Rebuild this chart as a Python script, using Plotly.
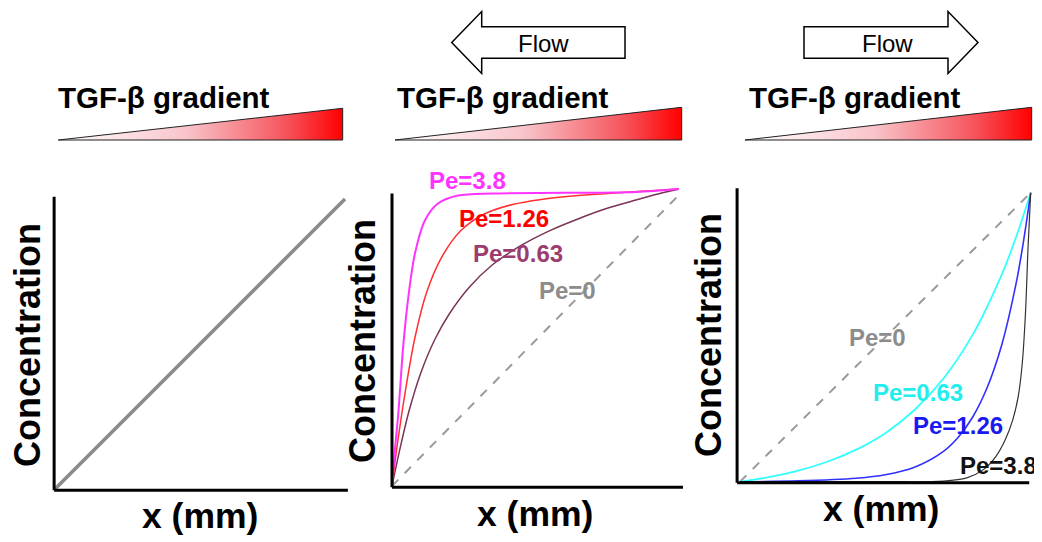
import plotly.graph_objects as go

W, H = 1042, 542
OFF = 8  # page body margin of the rendered html
FW, FH = W - OFF, H - OFF  # figure size so the page does not overflow the window
FONT = "Liberation Sans, Arial, sans-serif"

# ---------------- data ----------------
# Panel 1: no flow
p1_x = [0.0, 1.0]
p1_c = [0.0, 1.0]

# Panel 2: flow to the left
p2_pe0_x = [0.0, 1.0]
p2_pe0_c = [0.0, 0.98]
p2_pe063_x = [0, 0.03, 0.06, 0.1, 0.15, 0.2, 0.27, 0.35, 0.45, 0.55, 0.65, 0.75, 0.85, 0.93, 1.0]
p2_pe063_c = [0, 0.135, 0.255, 0.38, 0.495, 0.58, 0.67, 0.745, 0.81, 0.86, 0.9, 0.935, 0.963, 0.984, 1.0]
p2_pe126_x = [0, 0.02, 0.05, 0.08, 0.12, 0.17, 0.24, 0.32, 0.42, 0.52, 0.65, 0.8, 1.0]
p2_pe126_c = [0, 0.15, 0.34, 0.5, 0.65, 0.765, 0.86, 0.915, 0.948, 0.965, 0.978, 0.988, 1.0]
p2_pe38_x = [0, 0.01, 0.022, 0.039, 0.057, 0.08, 0.115, 0.16, 0.23, 0.35, 0.6, 0.85, 1.0]
p2_pe38_c = [0, 0.12, 0.245, 0.47, 0.637, 0.783, 0.895, 0.951, 0.978, 0.985, 0.987, 0.99, 1.0]

# Panel 3: flow to the right
p3_pe0_x = [0.0, 1.0]
p3_pe0_c = [0.0, 1.0]
p3_pe063_x = [0, 0.1, 0.2, 0.3, 0.4, 0.5, 0.6, 0.7, 0.8, 0.9, 0.95, 1.0]
p3_pe063_c = [0, 0.016, 0.038, 0.069, 0.111, 0.168, 0.248, 0.357, 0.508, 0.716, 0.847, 1.0]
p3_pe126_x = [0, 0.2, 0.4, 0.5, 0.6, 0.7, 0.75, 0.8, 0.85, 0.9, 0.95, 0.975, 1.0]
p3_pe126_c = [0, 0.003, 0.012, 0.024, 0.05, 0.105, 0.153, 0.223, 0.325, 0.472, 0.687, 0.83, 1.0]
p3_pe38_x = [0, 0.5, 0.7, 0.78, 0.835, 0.88, 0.912, 0.938, 0.957, 0.971, 0.982, 0.991, 1.0]
p3_pe38_c = [0, 0, 0.002, 0.013, 0.04, 0.087, 0.144, 0.213, 0.294, 0.41, 0.583, 0.813, 1.0]

pe_labels = ["Pe=0", "Pe=0.63", "Pe=1.26", "Pe=3.8"]
title_text = "TGF-β gradient"
flow_text = "Flow"
xlabel = "x (mm)"
ylabel = "Concentration"

# ---------------- layout helpers (pixel calibration, screen pixels) ----------------
panels = [
    dict(ox=55, oy=489, sx=290, sy=290, ytop=1.008, xright=1.01, yax=-0.003),
    dict(ox=392, oy=486, sx=287, sy=297, ytop=0.985, xright=1.014, yax=0.0),
    dict(ox=740, oy=481.7, sx=290.7, sy=289, ytop=1.015, xright=0.995, yax=-0.01),
]

fig = go.Figure()
layout_axes = {}
shapes = []
for i, p in enumerate(panels, start=1):
    left = max(OFF, p["ox"] - 40)
    right = min(W, p["ox"] + p["sx"] + 10)
    top = max(OFF, p["oy"] - p["sy"] - 30)
    bottom = min(H, p["oy"] + 20)
    xn = "xaxis" if i == 1 else f"xaxis{i}"
    yn = "yaxis" if i == 1 else f"yaxis{i}"
    layout_axes[xn] = dict(domain=[(left - OFF) / FW, (right - OFF) / FW],
                           range=[(left - p["ox"]) / p["sx"], (right - p["ox"]) / p["sx"]],
                           visible=False, anchor=f"y{i if i > 1 else ''}", fixedrange=True)
    layout_axes[yn] = dict(domain=[1 - (bottom - OFF) / FH, 1 - (top - OFF) / FH],
                           range=[(p["oy"] - bottom) / p["sy"], (p["oy"] - top) / p["sy"]],
                           visible=False, anchor=f"x{i if i > 1 else ''}", fixedrange=True)
    xr = "x" if i == 1 else f"x{i}"
    yr = "y" if i == 1 else f"y{i}"
    # axis lines
    shapes.append(dict(type="line", xref=xr, yref=yr, x0=p["yax"], x1=p["yax"], y0=-0.004,
                       y1=p["ytop"], line=dict(color="black", width=3)))
    shapes.append(dict(type="line", xref=xr, yref=yr, x0=p["yax"], x1=p["xright"], y0=-0.004,
                       y1=-0.004, line=dict(color="black", width=3)))

# overlay pixel axis (screen pixels) for decorations
layout_axes["xaxis4"] = dict(domain=[0, 1], range=[OFF, W], visible=False, anchor="y4", fixedrange=True)
layout_axes["yaxis4"] = dict(domain=[0, 1], range=[H, OFF], visible=False, anchor="x4", fixedrange=True)


def line(x, y, ax, color, width, dash=None):
    xr = "x" if ax == 1 else f"x{ax}"
    yr = "y" if ax == 1 else f"y{ax}"
    fig.add_trace(go.Scatter(x=x, y=y, xaxis=xr, yaxis=yr, mode="lines",
                             line=dict(color=color, width=width, dash=dash, shape="spline", smoothing=0.9),
                             hoverinfo="skip"))


# panel 1
line(p1_x, p1_c, 1, "#8a8a8a", 3.5)
# panel 2
line(p2_pe0_x, p2_pe0_c, 2, "#9a9a9a", 2, "dash")
line(p2_pe063_x, p2_pe063_c, 2, "#7b3358", 1.5)
line(p2_pe126_x, p2_pe126_c, 2, "#ff3030", 1.5)
line(p2_pe38_x, p2_pe38_c, 2, "#ff33ff", 2)
# panel 3
line(p3_pe0_x, p3_pe0_c, 3, "#9a9a9a", 2, "dash")
line(p3_pe063_x, p3_pe063_c, 3, "#33ffff", 1.8)
line(p3_pe126_x, p3_pe126_c, 3, "#3030ff", 1.6)
line(p3_pe38_x, p3_pe38_c, 3, "#333333", 1.2)

# gradient triangles
for (l, r, b, t) in [(58.3, 342.7, 140, 108.3), (395, 681.7, 140, 107.3), (745, 1031.7, 140, 107.3)]:
    fig.add_trace(go.Scatter(x=[l, r, r, l], y=[b, b, t, b], xaxis="x4", yaxis="y4", mode="lines",
                             fill="toself",
                             fillgradient=dict(type="horizontal",
                                               colorscale=[[0, "#ffffff"], [0.45, "#f8c4ca"],
                                                           [0.8, "#f6545c"], [1, "#ff0000"]]),
                             line=dict(color="#222222", width=1), hoverinfo="skip"))

# flow arrows
cy, hb, hh = 42.5, 15.8, 31.0
# left arrow (panel 2)
tip, base, end = 451.7, 481.7, 625
shapes.append(dict(type="path", xref="x4", yref="y4",
                   path=f"M {tip},{cy} L {base},{cy-hh} L {base},{cy-hb} L {end},{cy-hb} L {end},{cy+hb} "
                        f"L {base},{cy+hb} L {base},{cy+hh} Z",
                   fillcolor="white", line=dict(color="black", width=1.5)))
# right arrow (panel 3)
tip, base, end = 978, 948, 804
shapes.append(dict(type="path", xref="x4", yref="y4",
                   path=f"M {tip},{cy} L {base},{cy-hh} L {base},{cy-hb} L {end},{cy-hb} L {end},{cy+hb} "
                        f"L {base},{cy+hb} L {base},{cy+hh} Z",
                   fillcolor="white", line=dict(color="black", width=1.5)))

ann = []


def txt(x, y, s, size, color="black", bold=True, angle=0, xanchor="center"):
    ann.append(dict(x=x, y=y, xref="x4", yref="y4", text=s, showarrow=False, textangle=angle,
                    xanchor=xanchor, yanchor="middle",
                    font=dict(family=FONT, size=size, color=color, weight="bold" if bold else "normal")))


txt(543, 43, flow_text, 24, bold=False)
txt(887, 43, flow_text, 24, bold=False)
for lx in (56, 395, 747):
    txt(lx, 97.5, title_text, 29.5, xanchor="left")

for (cx, cyy) in [(27, 345), (362, 341), (708, 335)]:
    txt(cx, cyy, ylabel, 36, angle=-90)
for (cx, cyy) in [(200, 516), (535, 514), (881, 509)]:
    txt(cx, cyy, xlabel, 35.5)

# Pe labels panel 2
txt(467, 180, pe_labels[3], 24, "#ff33ff")
txt(504, 218, pe_labels[2], 24, "#ff0000")
txt(518, 253, pe_labels[1], 24, "#9b3d6e")
txt(567, 290, pe_labels[0], 24, "#8c8c8c")
# Pe labels panel 3
txt(877, 337, pe_labels[0], 24, "#8c8c8c")
txt(918, 392, pe_labels[1], 24, "#22eeee")
txt(958, 425, pe_labels[2], 24, "#1a1aee")
txt(998, 465, pe_labels[3], 24, "#111111")

fig.update_layout(width=FW, height=FH, margin=dict(l=0, r=0, t=0, b=0),
                  paper_bgcolor="white", plot_bgcolor="rgba(0,0,0,0)", showlegend=False,
                  shapes=shapes, annotations=ann, **layout_axes)

fig.write_html("out.html", config={"displayModeBar": False})
